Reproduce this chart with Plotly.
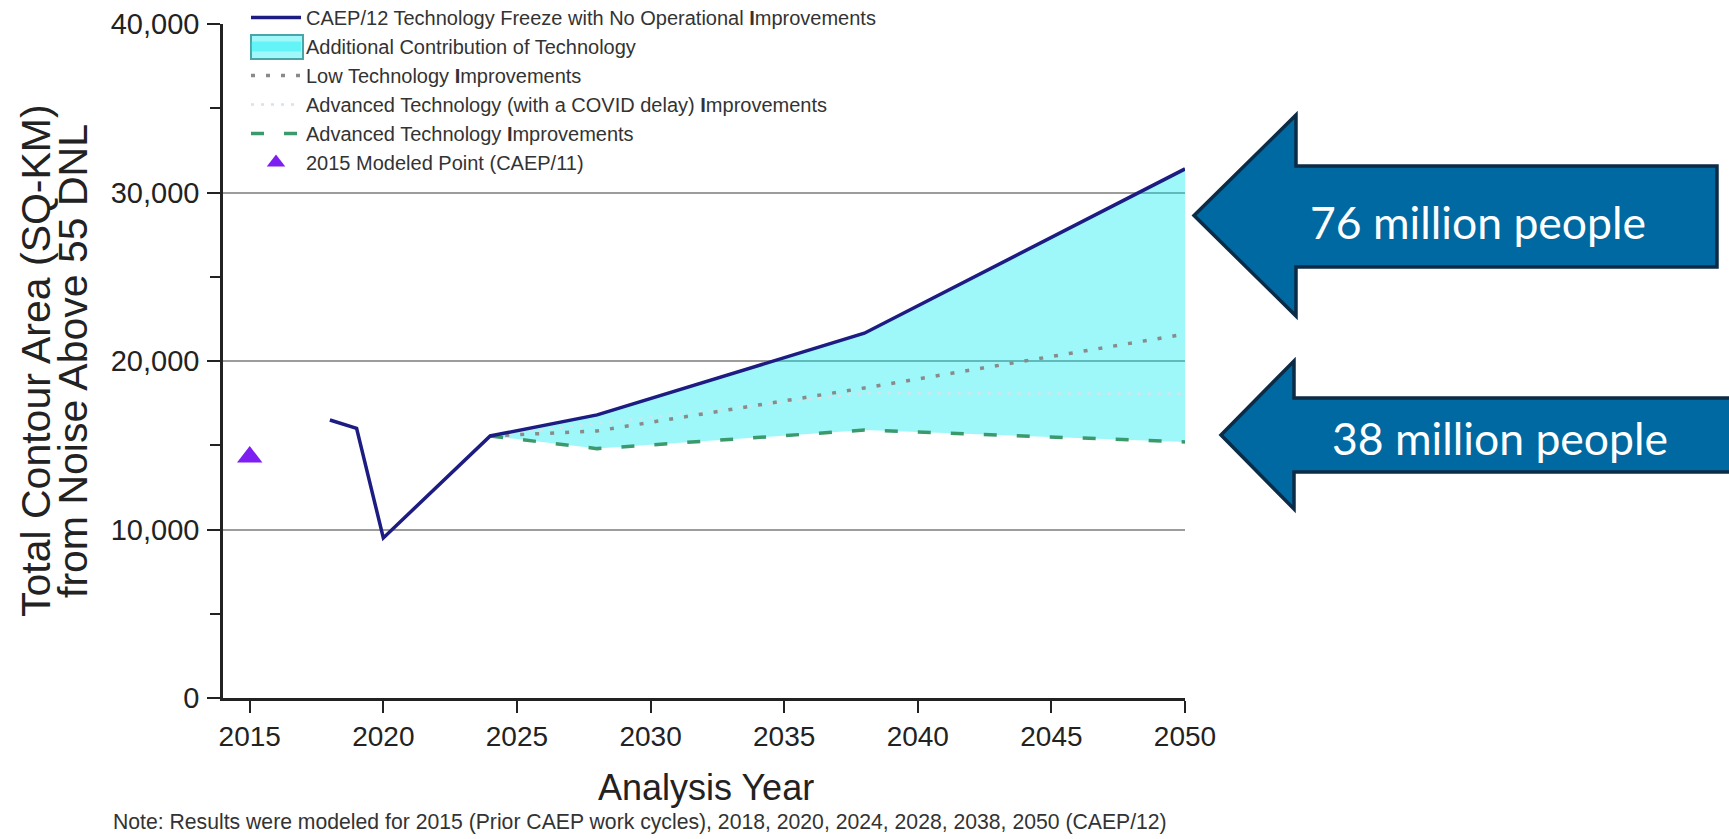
import plotly.graph_objects as go

# ---------------- data ----------------
freeze_years = [2018, 2019, 2020, 2024, 2028, 2038, 2050]
freeze_values = [16500, 16000, 9500, 15550, 16800, 21650, 31400]

tech_years = [2024, 2028, 2038, 2050]
low_tech_values = [15550, 15850, 18400, 21600]
covid_delay_values = [15550, 16300, 18100, 18050]
advanced_values = [15550, 14800, 15900, 15200]

modeled_year = [2015]
modeled_value = [14300]

x_ticks = [2015, 2020, 2025, 2030, 2035, 2040, 2045, 2050]
y_ticks = [0, 10000, 20000, 30000, 40000]

callouts = ["76 million people", "38 million people"]

legend_names = [
    "CAEP/12 Technology Freeze with No Operational <b>I</b>mprovements",
    "Additional Contribution of Technology",
    "Low Technology <b>I</b>mprovements",
    "Advanced Technology (with a COVID delay) <b>I</b>mprovements",
    "Advanced Technology <b>I</b>mprovements",
    "2015 Modeled Point (CAEP/11)",
]

# ---------------- layout geometry (pixels) ----------------
W, H = 1729, 839
PL, PR, PT, PB = 223, 1185, 24, 698


def px_x(p):
    return (p - PL) / (PR - PL)


def px_y(p):
    return (PB - p) / (PB - PT)


FONT = "Liberation Sans, Arial, sans-serif"
NAVY = "#1c1c82"
FILL = "rgba(0,236,242,0.38)"
TEAL = "#4aa6a6"

# freeze values on the technology years (upper edge of the filled band)
freeze_on_tech = [v for yr, v in zip(freeze_years, freeze_values) if yr in tech_years]

fig = go.Figure()

# lower edge of band (invisible)
fig.add_trace(go.Scatter(
    x=tech_years, y=advanced_values, mode="lines",
    line=dict(width=0, color="rgba(0,0,0,0)"),
    showlegend=False, hoverinfo="skip"))

fig.add_trace(go.Scatter(
    x=tech_years, y=freeze_on_tech, mode="lines", fill="tonexty",
    fillcolor=FILL, line=dict(width=1.5, color=TEAL),
    name=legend_names[1], showlegend=False))

# legend entry for the band
fig.add_trace(go.Scatter(
    x=[None], y=[None], mode="lines",
    line=dict(width=20, color=FILL),
    name=legend_names[1], legendrank=2, hoverinfo="skip"))

fig.add_trace(go.Scatter(
    x=tech_years, y=covid_delay_values, mode="lines",
    line=dict(width=2.5, color="#d3e4ea", dash="3px,7px"),
    name=legend_names[3], legendrank=4))

fig.add_trace(go.Scatter(
    x=tech_years, y=low_tech_values, mode="lines",
    line=dict(width=3.5, color="#8a8a8a", dash="4px,11px"),
    name=legend_names[2], legendrank=3))

fig.add_trace(go.Scatter(
    x=tech_years, y=advanced_values, mode="lines",
    line=dict(width=3.5, color="#3a9a6c", dash="13px,20px"),
    name=legend_names[4], legendrank=5))

fig.add_trace(go.Scatter(
    x=freeze_years, y=freeze_values, mode="lines",
    line=dict(width=3.5, color=NAVY),
    name=legend_names[0], legendrank=1))

fig.add_trace(go.Scatter(
    x=modeled_year, y=modeled_value, mode="markers",
    marker=dict(symbol="triangle-up", size=22, color="#7c1ff0"),
    name=legend_names[5], legendrank=6))

# ---------------- callout arrows ----------------
def arrow_path(tip_x, tip_y, head_x, head_top, head_bot, shaft_top, shaft_bot, right):
    pts = [(right, shaft_top), (head_x, shaft_top), (head_x, head_top),
           (tip_x, tip_y), (head_x, head_bot), (head_x, shaft_bot), (right, shaft_bot)]
    s = "M " + " L ".join(f"{px_x(a):.5f},{px_y(b):.5f}" for a, b in pts) + " Z"
    return s


arrows = [
    dict(tip_x=1194, tip_y=215.5, head_x=1296, head_top=115, head_bot=316,
         shaft_top=166, shaft_bot=267, right=1717, tx=1478, ty=221),
    dict(tip_x=1221, tip_y=435, head_x=1294, head_top=361, head_bot=509,
         shaft_top=398, shaft_bot=472, right=1750, tx=1500, ty=437),
]

shapes = []
annotations = []
for a, label in zip(arrows, callouts):
    shapes.append(dict(
        type="path", xref="paper", yref="paper",
        path=arrow_path(a["tip_x"], a["tip_y"], a["head_x"], a["head_top"], a["head_bot"],
                        a["shaft_top"], a["shaft_bot"], a["right"]),
        fillcolor="#0069a1", line=dict(color="#0c2b46", width=3.5), layer="above"))
    annotations.append(dict(
        text=label, xref="paper", yref="paper", x=px_x(a["tx"]), y=px_y(a["ty"]),
        xanchor="center", yanchor="middle", showarrow=False,
        font=dict(family="Lato, Open Sans, sans-serif", size=44.5, color="white")))

# border box behind the band's legend symbol
shapes.append(dict(
    type="rect", xref="paper", yref="paper",
    x0=px_x(251), x1=px_x(303), y0=px_y(35), y1=px_y(59),
    fillcolor="#a0f8fa", line=dict(color=TEAL, width=2), layer="above"))

# y-axis title (two lines)
annotations.append(dict(
    text="Total Contour Area (SQ-KM)", xref="paper", yref="paper",
    x=px_x(36), y=px_y(361), xanchor="center", yanchor="middle", textangle=-90,
    showarrow=False, font=dict(family=FONT, size=41, color="#222")))
annotations.append(dict(
    text="from Noise Above 55 DNL", xref="paper", yref="paper",
    x=px_x(73), y=px_y(361), xanchor="center", yanchor="middle", textangle=-90,
    showarrow=False, font=dict(family=FONT, size=41, color="#222")))

# x-axis title
annotations.append(dict(
    text="Analysis Year", xref="paper", yref="paper",
    x=px_x(706), y=px_y(787), xanchor="center", yanchor="middle",
    showarrow=False, font=dict(family=FONT, size=36, color="#222")))

# note
annotations.append(dict(
    text="Note: Results were modeled for 2015 (Prior CAEP work cycles), 2018, 2020, 2024, 2028, 2038, 2050 (CAEP/12)",
    xref="paper", yref="paper", x=px_x(111), y=px_y(822), xanchor="left", yanchor="middle",
    showarrow=False, font=dict(family=FONT, size=21.2, color="#333")))

fig.update_layout(
    width=W, height=H,
    margin=dict(l=PL, r=W - PR, t=PT, b=H - PB, pad=0, autoexpand=False),
    paper_bgcolor="white", plot_bgcolor="white",
    showlegend=True,
    legend=dict(
        x=px_x(246), y=px_y(-2), xanchor="left", yanchor="top",
        bgcolor="rgba(0,0,0,0)", borderwidth=0,
        font=dict(family=FONT, size=20, color="#333"),
        itemwidth=50, traceorder="normal", tracegroupgap=0),
    xaxis=dict(
        range=[2014.0, 2050], tickvals=x_ticks, ticktext=[str(v) for v in x_ticks],
        showline=True, linecolor="#222", linewidth=2.5,
        ticks="outside", ticklen=12, tickwidth=2, tickcolor="#222",
        ticklabelstandoff=0,
        showgrid=False, zeroline=False,
        tickfont=dict(family=FONT, size=28, color="#222")),
    yaxis=dict(
        range=[0, 40000], tickvals=y_ticks, tickformat=",",
        showline=True, linecolor="#222", linewidth=2.5,
        ticks="outside", ticklen=13, tickwidth=2, tickcolor="#222",
        ticklabelstandoff=2,
        minor=dict(dtick=5000, tick0=0, ticks="outside", ticklen=10, tickwidth=2,
                   tickcolor="#222", showgrid=False),
        showgrid=True, gridcolor="#9c9c9c", gridwidth=2, zeroline=False,
        tickfont=dict(family=FONT, size=29, color="#222")),
    shapes=shapes,
    annotations=annotations,
)

fig.write_html("out.html", config={"displayModeBar": False},
               post_script="document.body.style.margin='0px';")
